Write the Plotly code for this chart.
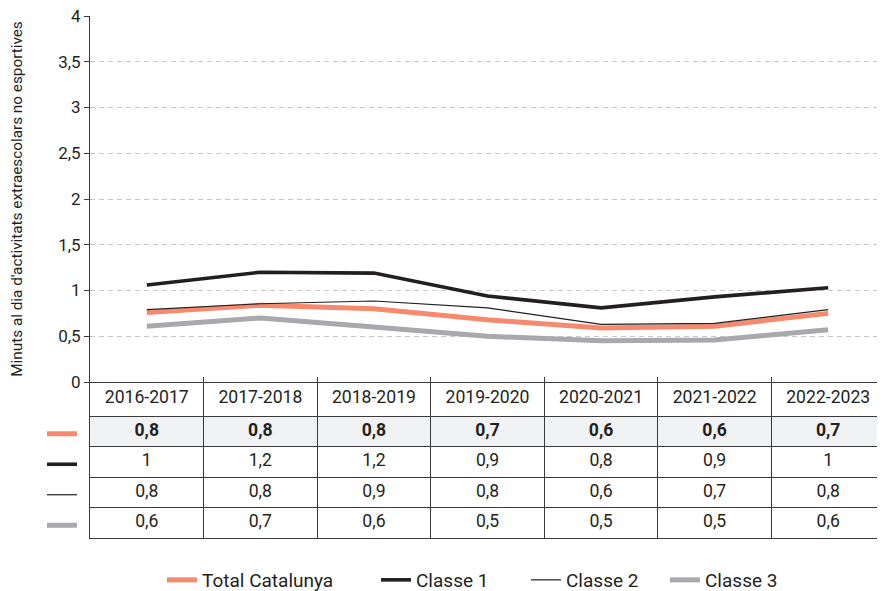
import plotly.graph_objects as go

# ---- data ----
years = ["2016-2017", "2017-2018", "2018-2019", "2019-2020", "2020-2021", "2021-2022", "2022-2023"]
series_names = ["Total Catalunya", "Classe 1", "Classe 2", "Classe 3"]

# plotted values
total_line = [0.76, 0.84, 0.80, 0.68, 0.59, 0.61, 0.75]
classe1_line = [1.06, 1.20, 1.19, 0.94, 0.81, 0.93, 1.03]
classe2_line = [0.79, 0.855, 0.885, 0.81, 0.63, 0.64, 0.79]
classe3_line = [0.61, 0.70, 0.60, 0.50, 0.45, 0.46, 0.57]

# values shown in the table
total_tab = [0.8, 0.8, 0.8, 0.7, 0.6, 0.6, 0.7]
classe1_tab = [1, 1.2, 1.2, 0.9, 0.8, 0.9, 1]
classe2_tab = [0.8, 0.8, 0.9, 0.8, 0.6, 0.7, 0.8]
classe3_tab = [0.6, 0.7, 0.6, 0.5, 0.5, 0.5, 0.6]

y_ticks = [0, 0.5, 1, 1.5, 2, 2.5, 3, 3.5, 4]
y_title = "Minuts al dia d'activitats extraescolars no esportives"

# ---- style ----
ORANGE = "#F58A6E"
BLACK = "#231F20"
GRAY = "#A7A9AC"
LINEC = "#3A3A3A"
TXT = "#231F20"
FONT = "Roboto"
BODY = 8                      # default page margin around the plot div
W, H = 885 - BODY, 591 - BODY
ML, MR, MT, MB = 90 - BODY, 0, 16 - BODY, 53
PLOT_W = W - ML - MR
PLOT_H = H - MT - MB
TABLE_H = 156                 # table height in px (y2 units = px)
chart_bottom = TABLE_H / PLOT_H
HEADER_H = 34
ROW_H = (TABLE_H - HEADER_H) / 4

styles = {
    "Total Catalunya": dict(color=ORANGE, width=5),
    "Classe 1": dict(color=BLACK, width=3.6),
    "Classe 2": dict(color=BLACK, width=1.2),
    "Classe 3": dict(color=GRAY, width=5),
}
line_data = {
    "Total Catalunya": total_line,
    "Classe 1": classe1_line,
    "Classe 2": classe2_line,
    "Classe 3": classe3_line,
}
table_data = [total_tab, classe1_tab, classe2_tab, classe3_tab]
legend_ids = {"Total Catalunya": "legend", "Classe 1": "legend2", "Classe 2": "legend3", "Classe 3": "legend4"}


def fmt(v):
    return f"{v:g}".replace(".", ",")


def px_x(page_x):
    return (page_x - BODY - ML) / PLOT_W


def px_y(page_y):
    return (H - MB - (page_y - BODY)) / PLOT_H


fig = go.Figure()

for name in ["Classe 3", "Total Catalunya", "Classe 1", "Classe 2"]:
    fig.add_trace(go.Scatter(
        x=years, y=line_data[name], mode="lines", name=name,
        line=dict(color=styles[name]["color"], width=styles[name]["width"]),
        legend=legend_ids[name], hoverinfo="skip", xaxis="x", yaxis="y",
    ))

# ---- table (axis x2/y2; y2 measured in px from the table top) ----
row_centers = [HEADER_H + ROW_H * (r + 0.5) for r in range(4)]
row_bounds = [HEADER_H + ROW_H * r for r in range(4)]

# highlighted first row
fig.add_shape(type="rect", xref="x2 domain", yref="y2", x0=0, x1=1,
              y0=row_bounds[0], y1=row_bounds[0] + ROW_H,
              fillcolor="#F1F2F3", line=dict(width=0), layer="below")

# header
fig.add_trace(go.Scatter(
    x=years, y=[HEADER_H / 2] * len(years), mode="text", text=years,
    textfont=dict(family=FONT, size=17.6, color=TXT), textposition="middle center",
    showlegend=False, hoverinfo="skip", xaxis="x2", yaxis="y2",
))
for r, vals in enumerate(table_data):
    fig.add_trace(go.Scatter(
        x=years, y=[row_centers[r]] * len(years), mode="text",
        text=[fmt(v) for v in vals],
        textfont=dict(family=FONT, size=17.6, color=TXT, weight=("bold" if r == 0 else "normal")),
        textposition="middle center",
        showlegend=False, hoverinfo="skip", xaxis="x2", yaxis="y2",
    ))


# left legend keys next to the table rows
def y2_to_paper(v):
    return (TABLE_H - v) / PLOT_H


for r, name in enumerate(series_names):
    yc = y2_to_paper(row_centers[r] + 2.5)
    fig.add_shape(type="line", xref="paper", yref="paper",
                  x0=px_x(47), x1=px_x(77), y0=yc, y1=yc,
                  line=dict(color=styles[name]["color"], width=styles[name]["width"]),
                  layer="above")

# ---- bottom legends ----
legend_x_page = {"legend": 162, "legend2": 376, "legend3": 526, "legend4": 665}
legend_layouts = {}
for lid, px in legend_x_page.items():
    legend_layouts[lid] = dict(
        x=px_x(px), y=px_y(580), xanchor="left", yanchor="middle",
        orientation="h", bgcolor="rgba(0,0,0,0)", borderwidth=0,
        font=dict(family=FONT, size=19, color=TXT),
    )

fig.update_layout(
    width=W, height=H,
    margin=dict(l=ML, r=MR, t=MT, b=MB, pad=0, autoexpand=False),
    paper_bgcolor="white", plot_bgcolor="white",
    separators=", ",
    showlegend=True,
    font=dict(family=FONT, color=TXT),
    **legend_layouts,
    xaxis=dict(
        type="category", range=[-0.5, 6.5], domain=[0, 1], anchor="y",
        showticklabels=False, ticks="inside", tickson="boundaries", ticklen=5,
        tickcolor=LINEC, showline=True, linecolor=LINEC, linewidth=1,
        showgrid=False, zeroline=False, fixedrange=True,
    ),
    yaxis=dict(
        domain=[chart_bottom, 1], range=[0, 4], tickvals=y_ticks, anchor="x",
        ticks="outside", ticklen=5, tickcolor=LINEC,
        showline=True, linecolor=LINEC, linewidth=1,
        showgrid=True, gridcolor="#C8C8C8", griddash="5px,4px", gridwidth=1,
        zeroline=False, automargin=False, fixedrange=True,
        ticklabeloverflow="allow",
        tickfont=dict(family=FONT, size=17, color=TXT),
        title=dict(text=y_title, font=dict(family=FONT, size=15.3, color=TXT), standoff=31),
    ),
    xaxis2=dict(
        type="category", range=[-0.5, 6.5], domain=[0, 1], anchor="y2",
        categoryorder="array", categoryarray=years,
        showticklabels=False, ticks="", tickson="boundaries",
        showgrid=True, gridcolor=LINEC, gridwidth=1,
        showline=True, linecolor=LINEC, linewidth=1,
        zeroline=False, fixedrange=True,
    ),
    yaxis2=dict(
        domain=[0, chart_bottom], range=[TABLE_H, 0], anchor="x2",
        tickvals=row_bounds, showticklabels=False, ticks="",
        showgrid=True, gridcolor=LINEC, gridwidth=1,
        showline=True, linecolor=LINEC, linewidth=1,
        zeroline=False, fixedrange=True,
    ),
)

fig.write_html("out.html")
